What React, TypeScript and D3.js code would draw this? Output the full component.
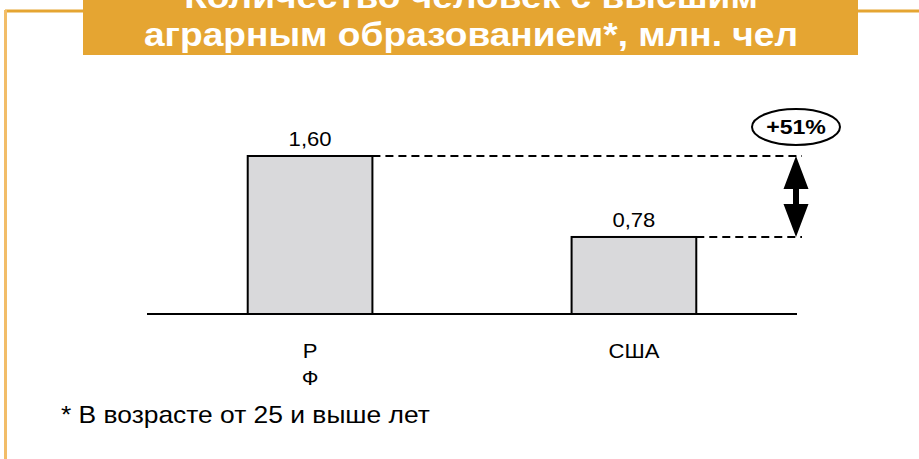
import React from "react";
import * as d3 from "d3";

const titleLines = ["Количество человек с высшим", "аграрным образованием*, млн. чел"];
const categories = ["РФ", "США"];
const categoryLabelLines = [["Р", "Ф"], ["США"]];
const values = [1.6, 0.78];
const valueLabels = ["1,60", "0,78"];
const diffLabel = "+51%";
const footnote = "* В возрасте от 25 и выше лет";

const W = 919;
const H = 459;
const ORANGE = "#E5A532";
const FONT = "'Liberation Sans', Arial, sans-serif";

function SText(props: {
  x: number;
  y: number;
  sx?: number;
  anchor?: string;
  size: number;
  bold?: boolean;
  fill?: string;
  children: React.ReactNode;
}) {
  const { x, y, sx = 1, anchor = "middle", size, bold, fill = "#000", children } = props;
  return (
    <g transform={`translate(${x},${y}) scale(${sx},1)`}>
      <text
        x={0}
        y={0}
        textAnchor={anchor}
        fontSize={size}
        fontWeight={bold ? "bold" : "normal"}
        fill={fill}
      >
        {children}
      </text>
    </g>
  );
}

export default function App() {
  const x = d3
    .scaleBand<string>()
    .domain(categories)
    .range([147, 797])
    .paddingInner(0.615)
    .paddingOuter(0.311);
  const y = d3.scaleLinear().domain([0, 1.6]).range([314, 156]);
  const bw = x.bandwidth();
  const arrowX = 796;
  const dashEnd = 802;
  const yTop = y(d3.max(values) as number);
  const yBot = y(d3.min(values) as number);
  const headH = 33;
  const headW = 25;
  const shaftW = 6;

  return (
    <svg
      width={W}
      height={H}
      style={{ position: "absolute", left: 0, top: 0, background: "#fff" }}
      fontFamily={FONT}
    >
      {/* frame */}
      <line x1={5} y1={11} x2={919} y2={11} stroke={ORANGE} strokeWidth={3} />
      <line x1={5.5} y1={10} x2={5.5} y2={H} stroke="#F2BD68" strokeWidth={3} />
      {/* title box */}
      <rect x={83} y={0} width={775} height={55} fill={ORANGE} />
      <SText x={471} y={8} sx={1.125} size={33} bold fill="#fff">
        {titleLines[0]}
      </SText>
      <SText x={471} y={46} sx={1.125} size={33} bold fill="#fff">
        {titleLines[1]}
      </SText>

      {/* dashed guide lines */}
      {categories.map((c, i) => (
        <line
          key={"d" + c}
          x1={(x(c) as number) + bw}
          x2={dashEnd}
          y1={y(values[i])}
          y2={y(values[i])}
          stroke="#000"
          strokeWidth={2}
          strokeDasharray="8,5"
        />
      ))}

      {/* bars */}
      {categories.map((c, i) => (
        <rect
          key={c}
          x={x(c) as number}
          y={y(values[i])}
          width={bw}
          height={y(0) - y(values[i])}
          fill="#D9D9DB"
          stroke="#000"
          strokeWidth={2}
        />
      ))}
      {/* baseline */}
      <line x1={147} x2={797} y1={y(0)} y2={y(0)} stroke="#000" strokeWidth={2} />

      {/* value labels */}
      {categories.map((c, i) => (
        <SText
          key={"v" + c}
          x={(x(c) as number) + bw / 2}
          y={y(values[i]) - 10}
          sx={1.05}
          size={21}
        >
          {valueLabels[i]}
        </SText>
      ))}

      {/* category labels */}
      {categories.map((c, i) =>
        categoryLabelLines[i].map((l, j) => (
          <SText
            key={"c" + c + j}
            x={(x(c) as number) + bw / 2}
            y={358 + j * 27}
            sx={1.05}
            size={21}
          >
            {l}
          </SText>
        ))
      )}

      {/* double arrow */}
      <path
        d={`M${arrowX},${yTop} L${arrowX + headW / 2},${yTop + headH} L${arrowX + shaftW / 2},${yTop + headH}
           L${arrowX + shaftW / 2},${yBot - headH} L${arrowX + headW / 2},${yBot - headH} L${arrowX},${yBot}
           L${arrowX - headW / 2},${yBot - headH} L${arrowX - shaftW / 2},${yBot - headH}
           L${arrowX - shaftW / 2},${yTop + headH} L${arrowX - headW / 2},${yTop + headH} Z`}
        fill="#000"
      />
      <ellipse cx={796} cy={127} rx={44} ry={18} fill="#fff" stroke="#000" strokeWidth={2} />
      <SText x={796} y={134} sx={1.1} size={21} bold>
        {diffLabel}
      </SText>

      {/* footnote */}
      <SText x={61} y={423} sx={1.1} size={24} anchor="start">
        {footnote}
      </SText>
    </svg>
  );
}
